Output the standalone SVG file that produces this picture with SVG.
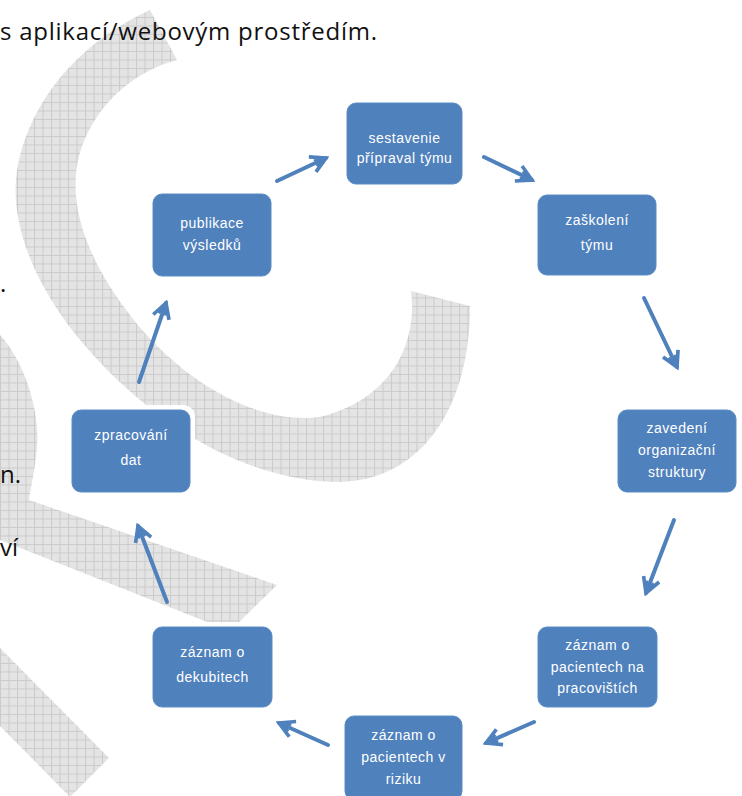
<svg xmlns="http://www.w3.org/2000/svg" width="742" height="796" viewBox="0 0 742 796">
<defs>
<pattern id="grid" width="8.5" height="8.5" patternUnits="userSpaceOnUse">
<rect width="8.5" height="8.5" fill="#e4e4e4"/>
<path d="M0,0.5H8.5M0.5,0V8.5" stroke="#cbcbcb" stroke-width="1" fill="none"/>
</pattern>
<marker id="ah" viewBox="0 0 12 12" refX="10" refY="6" markerWidth="5" markerHeight="5" orient="auto" markerUnits="strokeWidth">
<path d="M1,1 L10,6 L1,11 M3,3.5 L8,6 L3,8.5" fill="none" stroke="#4f81bd" stroke-width="2.2" stroke-linejoin="miter"/>
</marker>
</defs>
<style>
.wm{fill:url(#grid);}
.halo{fill:#ffffff;}
.box{fill:#4f81bd;stroke:#5b8cc4;stroke-width:1;}
.lbl{font-family:"Liberation Sans","DejaVu Sans",sans-serif;font-size:14px;letter-spacing:0.5px;fill:#ffffff;text-anchor:middle;}
.doc{font-family:"Open Sans","Liberation Sans",sans-serif;font-size:24px;fill:#111111;}
.arr{fill:none;stroke:#4f81bd;stroke-width:4;stroke-linecap:round;marker-end:url(#ah);}
</style>
<rect width="742" height="796" fill="#ffffff"/>
<g id="watermark">
<path class="wm" d="M150,10 C95,35 35,85 18,165 C5,230 45,320 140,400 C200,450 270,482 340,482 C420,480 470,410 470,306 L411,291 C418,345 390,400 320,417 C255,425 180,380 130,315 C95,270 72,220 76,175 C80,125 120,75 177,60 Z"/>
<path class="wm" d="M0,335 C25,362 40,412 37,446 C35,472 30,490 29,500 L277,585 L230,631 L0,540 Z"/>
<path class="wm" d="M0,648 L109,758 L70,797 L0,726 Z"/>
</g>
<g id="doc-text">
<text class="doc" x="0" y="40" textLength="377" lengthAdjust="spacing">s aplikací/webovým prostředím.</text>
<text class="doc" x="0" y="292">.</text>
<text class="doc" x="0" y="483">n.</text>
<text class="doc" x="0" y="556">ví</text>
</g>
<g id="connectors">
<path class="arr" d="M277,181 L326,158"/>
<path class="arr" d="M484,157 L532,180"/>
<path class="arr" d="M644,298 L677,367"/>
<path class="arr" d="M674,520 L646,593"/>
<path class="arr" d="M534,722 L486,743"/>
<path class="arr" d="M328,745 L279,723"/>
<path class="arr" d="M167,602 L138,526"/>
<path class="arr" d="M139,382 L166,303"/>
</g>
<g id="n1">
<rect class="halo" x="342" y="98" width="125" height="91" rx="12"/>
<rect class="box" x="347" y="103" width="115" height="81" rx="9"/>
<text class="lbl" x="404.5" y="143">sestavenie</text>
<text class="lbl" x="404.5" y="163">přípraval týmu</text>
</g>
<g id="n2">
<rect class="halo" x="533" y="190" width="128" height="90" rx="12"/>
<rect class="box" x="538" y="195" width="118" height="80" rx="9"/>
<text class="lbl" x="597" y="225">zaškolení</text>
<text class="lbl" x="597" y="250">týmu</text>
</g>
<g id="n3">
<rect class="halo" x="613" y="405" width="128" height="92" rx="12"/>
<rect class="box" x="618" y="410" width="118" height="82" rx="9"/>
<text class="lbl" x="677" y="433">zavedení</text>
<text class="lbl" x="677" y="455">organizační</text>
<text class="lbl" x="677" y="477">struktury</text>
</g>
<g id="n4">
<rect class="halo" x="533" y="622" width="129" height="90" rx="12"/>
<rect class="box" x="538" y="627" width="119" height="80" rx="9"/>
<text class="lbl" x="597.5" y="650">záznam o</text>
<text class="lbl" x="597.5" y="672">pacientech na</text>
<text class="lbl" x="597.5" y="693">pracovištích</text>
</g>
<g id="n5">
<rect class="halo" x="340" y="711" width="127" height="90" rx="12"/>
<rect class="box" x="345" y="716" width="117" height="84" rx="9"/>
<text class="lbl" x="403.5" y="740">záznam o</text>
<text class="lbl" x="403.5" y="762">pacientech v</text>
<text class="lbl" x="403.5" y="784">riziku</text>
</g>
<g id="n6">
<rect class="halo" x="148" y="622" width="129" height="90" rx="12"/>
<rect class="box" x="153" y="627" width="119" height="80" rx="9"/>
<text class="lbl" x="212.5" y="657">záznam o</text>
<text class="lbl" x="212.5" y="682">dekubitech</text>
</g>
<g id="n7">
<rect class="halo" x="67" y="405" width="128" height="92" rx="12"/>
<rect class="box" x="72" y="410" width="118" height="82" rx="9"/>
<text class="lbl" x="131" y="440">zpracování</text>
<text class="lbl" x="131" y="465">dat</text>
</g>
<g id="n8">
<rect class="halo" x="148" y="189" width="128" height="92" rx="12"/>
<rect class="box" x="153" y="194" width="118" height="82" rx="9"/>
<text class="lbl" x="212" y="228">publikace</text>
<text class="lbl" x="212" y="250">výsledků</text>
</g>
</svg>
